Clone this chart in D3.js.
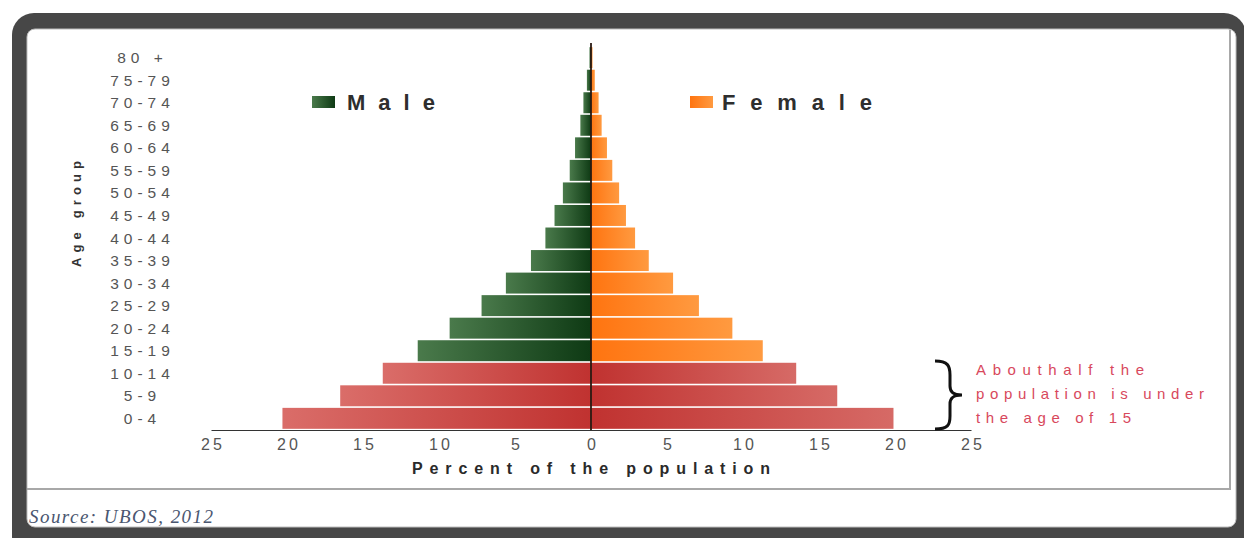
<!DOCTYPE html>
<html>
<head>
<meta charset="utf-8">
<script src="https://cdn.jsdelivr.net/npm/d3@7"></script>
<style>
  html, body { margin: 0; padding: 0; background: #ffffff; }
  svg { display: block; }
</style>
</head>
<body>
<svg id="chart" width="1244" height="538"></svg>
<script>
// ---- data ----
const ages = ["0-4","5-9","10-14","15-19","20-24","25-29","30-34","35-39","40-44","45-49","50-54","55-59","60-64","65-69","70-74","75-79","80 +"];
const male =   [20.3, 16.5, 13.7, 11.4, 9.3, 7.2, 5.6, 3.95, 3.0, 2.4, 1.85, 1.4, 1.05, 0.7, 0.5, 0.27, 0.1];
const female = [19.9, 16.2, 13.5, 11.3, 9.3, 7.1, 5.4, 3.8, 2.9, 2.3, 1.85, 1.4, 1.05, 0.7, 0.5, 0.25, 0.1];
const underFifteen = ["0-4","5-9","10-14"];
const xTicks = [-25,-20,-15,-10,-5,0,5,10,15,20,25];
const legendLabels = ["Male", "Female"];
const xTitle = "Percent of the population";
const yTitle = "Age group";
const noteLines = ["Abouthalf the", "population is under", "the age of 15"];
const sourceText = "Source: UBOS, 2012";

const svg = d3.select("#chart");
const FONT = "'Liberation Sans', Arial, sans-serif";

// ---- frame ----
svg.append("rect").attr("x",0).attr("y",0).attr("width",1244).attr("height",538).attr("fill","#fff");
svg.append("rect").attr("x",12).attr("y",13).attr("width",1234).attr("height",545).attr("rx",22).attr("fill","#474747");
svg.append("rect").attr("x",27).attr("y",29).attr("width",1209).attr("height",498).attr("rx",8).attr("fill","#fff")
  .attr("stroke","#bdbdbd").attr("stroke-width",1);
svg.append("path").attr("d","M27,489 H1230 V30").attr("fill","none").attr("stroke","#a8a8a8").attr("stroke-width",2);

// ---- gradients ----
const defs = svg.append("defs");
function grad(id, c1, c2) {
  const g = defs.append("linearGradient").attr("id", id).attr("x1","0").attr("x2","1").attr("y1","0").attr("y2","0");
  g.append("stop").attr("offset","0%").attr("stop-color",c1);
  g.append("stop").attr("offset","100%").attr("stop-color",c2);
}
grad("gMale", "#4a7a4b", "#0e3a14");
grad("gFemale", "#ff7410", "#ff9a40");
grad("gRedL", "#da6d69", "#c03230");
grad("gRedR", "#c03230", "#d66a66");

// ---- scales ----
const x = d3.scaleLinear().domain([-25, 25]).range([211, 971]);
const y = d3.scaleBand().domain(ages.slice().reverse()).range([46.5, 429.5]).paddingInner(0.07).paddingOuter(0.03);

const rows = ages.map((a, i) => ({age: a, m: male[i], f: female[i], hi: underFifteen.includes(a)}));

// male bars
svg.append("g").selectAll("rect").data(rows).join("rect")
  .attr("x", d => x(-d.m)).attr("width", d => x(0) - x(-d.m))
  .attr("y", d => y(d.age)).attr("height", y.bandwidth())
  .attr("fill", d => d.hi ? "url(#gRedL)" : "url(#gMale)");
// female bars
svg.append("g").selectAll("rect").data(rows).join("rect")
  .attr("x", x(0)).attr("width", d => x(d.f) - x(0))
  .attr("y", d => y(d.age)).attr("height", y.bandwidth())
  .attr("fill", d => d.hi ? "url(#gRedR)" : "url(#gFemale)");

// center line
svg.append("line").attr("x1", x(0)).attr("x2", x(0)).attr("y1", 43).attr("y2", 430)
  .attr("stroke", "#2b1a12").attr("stroke-width", 1.8);

// ---- x axis ----
const xAxis = svg.append("g").attr("transform", "translate(0,430)")
  .call(d3.axisBottom(x).tickValues(xTicks).tickFormat(d => Math.abs(d)).tickSize(0).tickPadding(9));
xAxis.select(".domain").attr("stroke", "#333").attr("stroke-width", 1.2);
xAxis.selectAll("text").attr("font-family", FONT).attr("font-size", 16).attr("fill", "#555")
  .attr("letter-spacing", 3).attr("dx", 1.5);

svg.append("text").attr("x", x(0)).attr("y", 474).attr("text-anchor", "middle")
  .attr("font-family", FONT).attr("font-size", 16).attr("font-weight", "bold").attr("fill", "#2a2a2a")
  .attr("textLength", 358).attr("lengthAdjust", "spacing").text(xTitle);

// ---- age labels ----
svg.append("g").selectAll("text").data(rows).join("text")
  .attr("x", 140).attr("y", d => y(d.age) + y.bandwidth() / 2 + 5.5)
  .attr("text-anchor", "middle").attr("font-family", FONT).attr("font-size", 15.5).attr("fill", "#555")
  .attr("letter-spacing", 5).attr("dx", 2.5)
  .text(d => d.age);

svg.append("text").attr("transform", "translate(81,214) rotate(-90)").attr("text-anchor", "middle")
  .attr("font-family", FONT).attr("font-size", 13).attr("font-weight", "bold").attr("fill", "#333")
  .attr("textLength", 106).attr("lengthAdjust", "spacing").text(yTitle);

// ---- legend ----
const legend = [
  {label: legendLabels[0], fill: "url(#gMale)", sx: 312, tx: 347, w: 88},
  {label: legendLabels[1], fill: "url(#gFemale)", sx: 690, tx: 722, w: 150}
];
legend.forEach(l => {
  svg.append("rect").attr("x", l.sx).attr("y", 96).attr("width", 23).attr("height", 12).attr("fill", l.fill);
  svg.append("text").attr("x", l.tx).attr("y", 110).attr("font-family", FONT).attr("font-size", 22)
    .attr("font-weight", "bold").attr("fill", "#2e2e2e")
    .attr("textLength", l.w).attr("lengthAdjust", "spacing").text(l.label);
});

// ---- annotation brace ----
svg.append("path")
  .attr("d", "M935,361 C948,361 950,366 950,375 L950,386 C950,392 953,395 962,395 C953,395 950,398 950,404 L950,416 C950,425 948,429 935,429")
  .attr("fill", "none").attr("stroke", "#111").attr("stroke-width", 3);
const noteWidths = [168, 228, 155];
svg.append("g").selectAll("text").data(noteLines).join("text")
  .attr("x", 976).attr("y", (d, i) => 375 + i * 24)
  .attr("font-family", FONT).attr("font-size", 15).attr("fill", "#d8485c")
  .attr("textLength", (d, i) => noteWidths[i]).attr("lengthAdjust", "spacing")
  .text(d => d);

// ---- source ----
svg.append("text").attr("x", 29).attr("y", 523).attr("font-family", "'Liberation Serif', 'Times New Roman', serif")
  .attr("font-style", "italic").attr("font-size", 19).attr("fill", "#4a5670")
  .attr("textLength", 184).attr("lengthAdjust", "spacing").text(sourceText);
</script>
</body>
</html>
